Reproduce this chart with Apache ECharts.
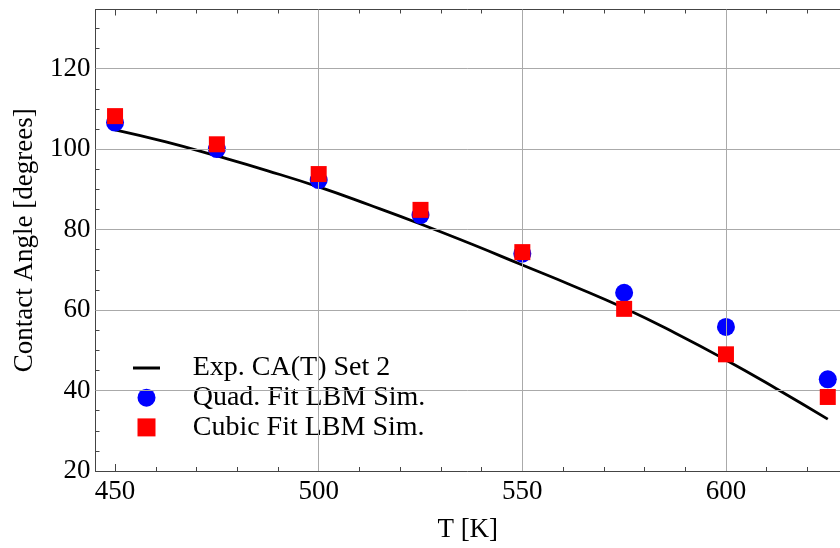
<!DOCTYPE html>
<html>
<head>
<meta charset="utf-8">
<script src="https://cdn.jsdelivr.net/npm/echarts@6/dist/echarts.min.js"></script>
<style>html,body{margin:0;padding:0;background:#fff}#c{width:840px;height:548px}</style>
</head>
<body>
<div id="c"></div>
<script>
// ---- data ----
var simT = [450, 475, 500, 525, 550, 575, 600, 625];
var quadFit = [106.6, 100.0, 92.3, 83.6, 74.0, 64.3, 55.8, 42.8];
var cubicFit = [108.2, 101.2, 93.8, 84.9, 74.4, 60.3, 49.0, 38.4];
var expT = [450, 462.5, 475, 487.5, 500, 512.5, 525, 537.5, 550, 562.5, 575, 587.5, 600, 612.5, 625];
var expCA = [104.8, 101.8, 98.3, 94.6, 90.6, 86.1, 81.4, 76.4, 71.2, 66.0, 60.5, 54.3, 47.6, 40.4, 32.9];
var xMajorTicks = [450, 500, 550, 600];
var xMinorTicks = [460, 470, 480, 490, 510, 520, 530, 540, 560, 570, 580, 590, 610, 620];
var yMajorTicks = [20, 40, 60, 80, 100, 120];
var yMinorTicks = [25, 30, 35, 45, 50, 55, 65, 70, 75, 85, 90, 95, 105, 110, 115, 125, 130];
var xGridLines = [500, 550, 600];
var yGridLines = [40, 60, 80, 100, 120];

var XMIN = 445.2, XMAX = 628, YMIN = 20, YMAX = 134.7;
var FONT = 'Liberation Serif';
var AX = '#444';

function zip(a, b) { return a.map(function (v, i) { return [v, b[i]]; }); }

function xAx(pos, ticks, len, showLine, labels) {
  return {
    type: 'value', position: pos, min: XMIN, max: XMAX,
    axisLine: { show: showLine, onZero: false, lineStyle: { color: AX, width: 1 } },
    axisTick: { show: true, inside: true, length: len, customValues: ticks, lineStyle: { color: AX, width: 1 } },
    axisLabel: labels ? { show: true, customValues: xMajorTicks, fontFamily: FONT, fontSize: 27, color: '#000', margin: 7 } : { show: false },
    splitLine: { show: false }
  };
}
function yAx(ticks, len, showLine, labels) {
  return {
    type: 'value', position: 'left', min: YMIN, max: YMAX,
    axisLine: { show: showLine, onZero: false, lineStyle: { color: AX, width: 1 } },
    axisTick: { show: true, inside: true, length: len, customValues: ticks, lineStyle: { color: AX, width: 1 } },
    axisLabel: labels ? { show: true, customValues: yMajorTicks, fontFamily: FONT, fontSize: 27, color: '#000', margin: 5 } : { show: false },
    splitLine: { show: false }
  };
}

var xAxes = [xAx('bottom', xMajorTicks, 7, true, true), xAx('bottom', xMinorTicks, 4, false, false),
             xAx('top', xMajorTicks, 6, true, false), xAx('top', xMinorTicks, 4, false, false)];
xAxes[0].name = 'T [K]';
xAxes[0].nameLocation = 'middle';
xAxes[0].nameGap = 45;
xAxes[0].nameTextStyle = { fontFamily: FONT, fontSize: 27, color: '#000' };

var yAxes = [yAx(yMajorTicks, 7, true, true), yAx(yMinorTicks, 4, false, false)];
yAxes[0].name = 'Contact Angle [degrees]';
yAxes[0].nameLocation = 'middle';
yAxes[0].nameGap = 57;
yAxes[0].nameTextStyle = { fontFamily: FONT, fontSize: 27, color: '#000' };

var gridMarks = xGridLines.map(function (v) { return { xAxis: v }; })
  .concat(yGridLines.map(function (v) { return { yAxis: v }; }));

var option = {
  animation: false,
  grid: { left: 95.5, right: 0, top: 9.5, bottom: 75, containLabel: false },
  xAxis: xAxes,
  yAxis: yAxes,
  legend: {
    orient: 'vertical', left: 133, top: 354, padding: 0,
    itemWidth: 27, itemHeight: 18, itemGap: 1.7,
    textStyle: { fontFamily: FONT, fontSize: 28, color: '#000', padding: [0, 0, 0, 27.7] },
    data: [
      { name: 'Exp. CA(T) Set 2', icon: 'path://M0,0 L27,0 L27,3 L0,3 Z' },
      { name: 'Quad. Fit LBM Sim.', icon: 'circle' },
      { name: 'Cubic Fit LBM Sim.', icon: 'path://M0,0 L16,0 L16,16 L0,16 Z' }
    ]
  },
  series: [
    {
      name: 'grid', type: 'line', data: [], z: 1, silent: true,
      markLine: {
        silent: true, symbol: 'none', label: { show: false },
        lineStyle: { color: '#aaa', width: 1, type: 'solid' },
        data: gridMarks
      }
    },
    {
      name: 'Exp. CA(T) Set 2', type: 'line', data: zip(expT, expCA), smooth: true,
      showSymbol: false, symbol: 'none', z: 3,
      lineStyle: { color: '#000', width: 2.8 }, itemStyle: { color: '#000' }
    },
    {
      name: 'Quad. Fit LBM Sim.', type: 'scatter', data: zip(simT, quadFit),
      symbol: 'circle', symbolSize: 18, z: 4, itemStyle: { color: '#0000ff', opacity: 1 }
    },
    {
      name: 'Cubic Fit LBM Sim.', type: 'scatter', data: zip(simT, cubicFit),
      symbol: 'rect', symbolSize: 16, z: 5, itemStyle: { color: '#ff0000', opacity: 1 }
    }
  ]
};
var chart = echarts.init(document.getElementById('c'));
chart.setOption(option);
</script>
</body>
</html>
